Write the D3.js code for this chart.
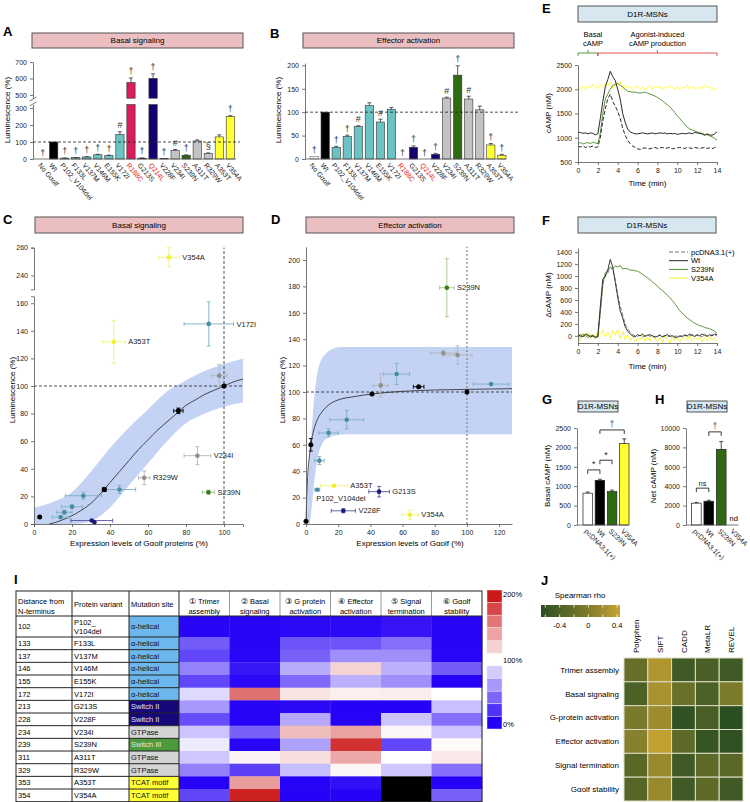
<!DOCTYPE html>
<html>
<head>
<meta charset="utf-8">
<script src="https://cdn.jsdelivr.net/npm/d3@7"></script>
<style>
  body { margin: 0; background: #fff; }
  svg { font-family: "Liberation Sans", Arial, sans-serif; }
</style>
</head>
<body>
<svg width="750" height="802"></svg>
<script>
const variants = ["No Gαolf", "Wt", "P102_V104del", "F133L", "V137M", "V146M", "E155K", "V172I", "R188C",
  "G213S", "Q214L", "V228F", "V234I", "S239N", "A311T", "R329W", "A353T", "V354A"];
const variantGroup = ["none", "wt", "helix", "helix", "helix", "helix", "helix", "helix", "r188",
  "switch", "switch", "switch", "gtp", "sw3", "gtp", "gtp", "tcat", "tcat"];
const redLabels = ["R188C", "Q214L"];

const basalVals = [0, 100, 5, 8, 12, 25, 20, 145, 575, 5, 600, 2, 50, 22, 106, 33, 130, 250];
const basalErr = [0, 0, 1, 1, 2, 3, 3, 15, 28, 1, 28, 0, 6, 2, 6, 3, 12, 5];
const basalMarks = ["†", "", "†", "†", "†", "†", "†", "#", "†", "†", "†", "†", "#", "†", "", "§", "", "†"];

const effectorVals = [5, 100, 25, 48, 69, 114, 79, 106, 0, 25, 0, 10, 130, 179, 128, 105, 30, 8];
const effectorErr = [0, 0, 2, 3, 2, 6, 6, 4, 0, 3, 0, 2, 2, 20, 6, 8, 3, 2];
const effectorMarks = ["†", "", "†", "†", "#", "", "#", "", "†", "†", "†", "†", "#", "†", "#", "", "†", "†"];

// expression vs luminescence: [x, y, xErr, yErr, group, label]
const cPoints = [
  [3, 5, 0, 0, "wt", ""], [37, 25, 1, 1.5, "wt", ""], [76, 82, 2.5, 2, "wt", ""], [100, 100, 0, 0, "wt", ""],
  [26, 20.5, 9.5, 2.5, "helix", ""], [45, 25, 8.5, 3, "helix", ""], [20, 12.5, 5.5, 1.5, "helix", ""],
  [16, 8.5, 4, 1.5, "helix", ""], [14, 5, 4.3, 1, "helix", ""], [92, 145, 13, 16, "helix", "V172I"],
  [30.4, 2.5, 11, 0.5, "switch", ""], [31.8, 1.3, 0, 0, "switch", ""],
  [58, 33.5, 3, 5, "gtp", "R329W"], [86, 49.5, 7, 6.5, "gtp", "V234I"], [97.5, 107.5, 4, 8, "gtp", ""],
  [91.8, 23, 3.2, 1.5, "sw3", "S239N"],
  [42, 132, 6, 15.5, "tcat", "A353T"], [71, 253, 5.5, 7, "tcat", "V354A"]
];
const cFitX = [8, 10, 15, 20, 25, 30, 35, 40, 45, 50, 55, 60, 65, 70, 75, 80, 85, 90, 95, 100, 105, 110];
const cFitY = [0, 0.6, 3, 6, 10, 15, 22, 30, 38, 46, 54, 61, 68, 74, 80, 86, 90, 94, 97, 100, 103, 105];
const cBandX = [0, 10, 20, 30, 40, 50, 60, 70, 80, 90, 100, 110];
const cBandLo = [0, 0, 0, 2, 12, 28, 44, 60, 73, 80, 85, 88];
const cBandHi = [12, 16, 23, 38, 55, 70, 83, 96, 104, 111, 116, 120];

const dPoints = [
  [0, 2, 0, 0, "wt", ""], [3, 60, 0, 4.8, "wt", ""], [41, 98.5, 0, 0, "wt", ""], [70, 104, 3.3, 0, "wt", ""], [100, 100, 0, 0, "wt", ""],
  [8.3, 48, 3, 3, "helix", ""], [14, 69, 6, 3, "helix", ""], [25.3, 79, 10.5, 7, "helix", ""],
  [7, 26, 1.5, 0, "helix", "P102_V104del"], [56.3, 113.6, 8, 8, "helix", ""], [115, 106, 11, 0, "helix", ""],
  [46.4, 105, 4.7, 8.8, "gtp", ""], [85.3, 129.5, 8, 2, "gtp", ""], [94.2, 128, 9, 7, "gtp", ""],
  [87.5, 179, 4.5, 22, "sw3", "S239N"],
  [45.4, 24.5, 6.4, 4, "switch", "G213S"], [23.2, 10, 7.5, 1.5, "switch", "V228F"],
  [17.4, 29, 8.3, 0, "tcat", "A353T"], [64.6, 7, 5.2, 3.5, "tcat", "V354A"]
];
const dFitX = [0, 0.5, 1, 2, 3, 4, 5, 7, 10, 15, 20, 30, 41, 60, 80, 100, 128];
const dFitY = [2, 20, 35, 50, 60, 67, 72, 79, 85, 91, 94, 96.5, 98.5, 100.5, 101.5, 102, 102.5];
const dBandUpX = [0.5, 1, 2, 3.5, 5, 7, 9, 10.8, 13, 17, 22, 27, 128];
const dBandUpY = [0, 20, 45, 71, 94, 114, 123, 127, 130, 133, 134, 134, 134];
const dBandLoX = [2.3, 3.5, 4.6, 6.6, 9.7, 12, 14.9, 20, 25.3, 128];
const dBandLoY = [0, 12, 26, 46, 60, 64, 66, 67.5, 68, 68];

// cAMP traces, one value every 0.25 min (rows = three minutes)
const tMin = d3.range(0, 14.001, 0.25);
const eWt = [
  1100, 1110, 1090, 1100, 1080, 1100, 1090, 1060, 1080, 1400, 1750, 2050,
  2200, 2370, 2260, 2180, 2000, 1800, 1500, 1320, 1180, 1120, 1100, 1080,
  1080, 1090, 1100, 1090, 1080, 1090, 1100, 1080, 1090, 1100, 1090, 1100,
  1080, 1090, 1080, 1090, 1070, 1080, 1090, 1080, 1090, 1100, 1080, 1110,
  1100, 1090, 1080, 1050, 1080, 1060, 1050, 1080, 1120
];
const ePc = [
  820, 810, 830, 800, 820, 810, 830, 800, 810, 1000, 1350, 1600,
  1800, 1900, 1750, 1650, 1550, 1400, 1200, 1050, 950, 880, 830, 800,
  770, 760, 780, 790, 780, 770, 790, 800, 780, 790, 800, 780,
  790, 800, 770, 780, 790, 800, 790, 780, 800, 790, 780, 800,
  790, 780, 790, 800, 780, 790, 770, 800, 820
];
const eS239N = [
  880, 900, 870, 890, 900, 880, 910, 890, 880, 1100, 1500, 1800,
  1900, 2000, 2080, 2100, 2120, 2080, 2050, 2000, 1960, 1950, 1940, 1940,
  1930, 1920, 1930, 1940, 1920, 1900, 1880, 1860, 1830, 1800, 1760, 1720,
  1680, 1640, 1580, 1520, 1450, 1400, 1330, 1280, 1220, 1180, 1160, 1140,
  1120, 1100, 1090, 1070, 1060, 1040, 1020, 990, 950
];
const eV354A = [
  2050, 1980, 2060, 2000, 2080, 2030, 2100, 2040, 2010, 2090, 2040, 2120,
  2060, 2150, 2020, 2100, 2060, 2160, 2000, 2080, 2030, 2060, 1990, 2040,
  2070, 2010, 2050, 1980, 2040, 2080, 2000, 2060, 2020, 2070, 1990, 2050,
  2010, 2080, 2030, 2000, 2060, 1990, 2050, 2020, 2080, 2000, 2060, 2030,
  1990, 2050, 2010, 2090, 2030, 2060, 1990, 2010, 1990
];
const fPc = [
  10, -20, 30, 0, 20, -30, 10, -20, 0, 400, 900, 1000,
  1050, 1150, 1100, 950, 700, 500, 350, 200, 120, 60, 20, 0,
  -10, 10, -20, 0, 20, -10, 10, -30, 0, 20, -10, 10,
  -20, 0, 10, -10, 0, -20, 10, 20, -10, 0, 20, -10,
  10, 0, -20, 30, 0, -10, 20, 10, 0
];
const fWt = [
  20, 0, -10, 30, 10, -20, 0, -30, -10, 500, 950, 1000,
  1100, 1280, 1150, 900, 650, 420, 300, 150, 80, 30, 0, -20,
  20, 0, 30, -10, 10, 20, 0, -20, -10, 10, -20, 0,
  20, -10, 0, -30, -20, 0, -10, 10, 0, 30, 10, -10,
  20, 0, 30, 10, -10, 20, 0, 30, 20
];
const fS239N = [
  0, 20, -20, 10, -30, 10, 0, -10, -20, 400, 850, 1050,
  1100, 1150, 1120, 1170, 1150, 1180, 1120, 1130, 1120, 1100, 1100, 1090,
  1080, 1060, 1030, 1000, 970, 940, 900, 870, 830, 790, 760, 720,
  680, 640, 590, 540, 480, 420, 380, 340, 300, 270, 240, 210,
  190, 170, 160, 140, 130, 120, 100, 80, 40
];
const fV354A = [
  0, -80, 40, -20, 60, -40, 30, -60, 80, 20, 100, -20,
  60, -30, 90, 10, 100, -40, 70, -60, 20, -80, -20, -100,
  -40, -70, 30, -90, -20, -80, 10, -60, -90, -30, -110, 0,
  -60, -120, -20, -80, -30, -100, -50, -10, -70, 10, -90, -40,
  -60, -20, -100, -30, -80, -10, -60, -40, -90
];

const cellLines = ["pcDNA3.1(+)", "Wt", "S239N", "V354A"];
const basalCamp = [820, 1150, 860, 2100];
const basalCampErr = [30, 30, 40, 120];
const netCamp = [2250, 2450, 7800, null];
const netCampErr = [80, 100, 800, 0];
const gBrackets = [[0, 1, 1420, "*"], [1, 2, 1670, "*"], [1, 3, 2450, "†"]];
const hBrackets = [[0, 1, 3800, "ns"], [1, 2, 9600, "†"]];

const iDistance = [102, 133, 137, 146, 155, 172, 213, 228, 234, 239, 311, 329, 353, 354];
const iVariant = ["P102_V104del", "F133L", "V137M", "V146M", "E155K", "V172I", "G213S", "V228F",
  "V234I", "S239N", "A311T", "R329W", "A353T", "V354A"];
const iSite = ["α-helical", "α-helical", "α-helical", "α-helical", "α-helical", "α-helical", "Switch II", "Switch II",
  "GTPase", "Switch III", "GTPase", "GTPase", "TCAT motif", "TCAT motif"];
const iCols = [["① Trimer", "assembly"], ["② Basal", "signaling"], ["③ G protein", "activation"],
  ["④ Effector", "activation"], ["⑤ Signal", "termination"], ["⑥ Gαolf", "stability"]];
const iValues = [
  [2, 2, 3, 3, 8, 2],
  [36, 2, 33, 33, 44, 2],
  [28, 2, 38, 56, 56, 2],
  [51, 9, 67, 119, 69, 36],
  [28, 3, 41, 69, 56, 1],
  [85, 162, 112, 107, 108, 100],
  [60, 2, 4, 1, 1, 75],
  [30, 1, 66, 1, 77, 44],
  [77, 38, 129, 141, 104, 77],
  [92, 2, 63, 190, 28, 102],
  [78, 105, 114, 138, 100, 110],
  [50, 25, 74, 104, 78, 44],
  [1, 143, 1, 6, null, 1],
  [28, 197, 1, 1, null, 38]
];
const iLegendRed = [200, 180, 160, 140, 120];
const iLegendBlue = [80, 60, 40, 20, 0];

const jRows = ["Trimer assembly", "Basal signaling", "G-protein activation", "Effector activation",
  "Signal termination", "Gαolf stability"];
const jCols = ["Polyphen", "SIFT", "CADD", "MetaLR", "REVEL"];
const jRho = [
  [-0.2, 0.30, -0.50, -0.42, -0.50],
  [-0.40, 0.26, -0.17, -0.40, -0.02],
  [-0.03, 0.18, -0.62, -0.42, -0.66],
  [0.05, 0.40, -0.27, -0.57, -0.62],
  [-0.30, 0.15, -0.50, -0.27, -0.30],
  [-0.32, 0.15, -0.50, -0.27, -0.50]
];

const barFill = { none: "#ececec", wt: "#000", helix: "#6cc3c3", r188: "#d81c5c", switch: "#14006e",
  gtp: "#c3c3c3", sw3: "#2d6a12", tcat: "#ffff33" };
const ptFill = { wt: "#000", helix: "#4a8ca3", switch: "#1c1a78", gtp: "#8f8f8f", sw3: "#3b7a1c", tcat: "#f2f22a" };
const ptErr = { wt: "#000", helix: "#7db0c2", switch: "#5552a0", gtp: "#b5b5b5", sw3: "#a3c48e", tcat: "#f0f07a" };
const siteFill = { "α-helical": "#6cb8ee", "Switch II": "#16077a", "GTPase": "#d4d4d4", "Switch III": "#4c9a3c", "TCAT motif": "#ffff33" };
const plain = d3.format("d");

const svg = d3.select("svg");

const letter = (t, x, y) => svg.append("text").attr("x", x).attr("y", y)
  .attr("font-size", 13).attr("font-weight", "bold").text(t);

const banner = (t, x0, x1, y0, y1, fill) => {
  svg.append("rect").attr("x", x0).attr("y", y0).attr("width", x1 - x0).attr("height", y1 - y0)
    .attr("fill", fill).attr("stroke", "#555").attr("stroke-width", 1);
  svg.append("text").attr("x", (x0 + x1) / 2).attr("y", (y0 + y1) / 2).attr("dy", "0.35em")
    .attr("text-anchor", "middle").attr("font-size", 8).text(t);
};

const yLabel = (t, x, y) => svg.append("text").attr("transform", `translate(${x},${y}) rotate(-90)`)
  .attr("text-anchor", "middle").attr("font-size", 8).text(t);

const xLabel = (t, x, y) => svg.append("text").attr("x", x).attr("y", y)
  .attr("text-anchor", "middle").attr("font-size", 8).text(t);

const styleAxis = g => {
  g.attr("font-family", null).attr("font-size", null);
  g.selectAll(".domain").attr("stroke", "#555").attr("stroke-width", 0.8);
  g.selectAll(".tick line").attr("stroke", "#555").attr("stroke-width", 0.8);
  g.selectAll(".tick text").attr("font-size", 7).attr("fill", "#222");
  return g;
};

const hLine = (x0, x1, y, dash, color = "#222", w = 0.8) => svg.append("line")
  .attr("x1", x0).attr("x2", x1).attr("y1", y).attr("y2", y)
  .attr("stroke", color).attr("stroke-width", w).attr("stroke-dasharray", dash);

const vLine = (x, y0, y1, dash, color = "#222", w = 0.8) => svg.append("line")
  .attr("x1", x).attr("x2", x).attr("y1", y0).attr("y2", y1)
  .attr("stroke", color).attr("stroke-width", w).attr("stroke-dasharray", dash);

const rotatedTicks = (scale, y, colorOf) => {
  const g = svg.append("g").attr("transform", `translate(0,${y})`)
    .call(d3.axisBottom(scale).tickSize(0));
  g.select(".domain").remove();
  styleAxis(g);
  g.selectAll(".tick text")
    .attr("x", 0).attr("y", 0).attr("dy", "0.35em")
    .attr("text-anchor", "start")
    .attr("transform", "translate(-3,5) rotate(50)")
    .attr("fill", d => colorOf(d));
};

// ---------- A: basal signaling bars with broken axis ----------
letter("A", 3, 36);
banner("Basal signaling", 32, 243, 33, 48, "#ebbfc2");

const xA = d3.scaleBand().domain(variants).range([38.5, 234.5]).paddingInner(0.25);
const yAlo = d3.scaleLinear().domain([0, 320]).range([159, 104.6]);
const yAhi = d3.scaleLinear().domain([480, 700]).range([98.2, 62]);
const yA = v => (v > 320 ? yAhi(v) : yAlo(v));

const gA = svg.append("g");
variants.forEach((v, i) => {
  const val = basalVals[i];
  const x = xA(v);
  const w = xA.bandwidth();
  const fill = barFill[variantGroup[i]];
  if (val > 320) {
    gA.append("rect").attr("x", x).attr("y", yAlo(320)).attr("width", w).attr("height", yAlo(0) - yAlo(320))
      .attr("fill", fill).attr("stroke", "#333").attr("stroke-width", 0.6);
    gA.append("rect").attr("x", x).attr("y", yAhi(val)).attr("width", w).attr("height", yAhi(480) - yAhi(val))
      .attr("fill", fill).attr("stroke", "#333").attr("stroke-width", 0.6);
  } else {
    gA.append("rect").attr("x", x).attr("y", yAlo(val)).attr("width", w).attr("height", yAlo(0) - yAlo(val))
      .attr("fill", fill).attr("stroke", "#333").attr("stroke-width", 0.6);
  }
  const cx = x + w / 2;
  const top = yA(val + basalErr[i]);
  if (basalErr[i] > 0) {
    gA.append("line").attr("x1", cx).attr("x2", cx).attr("y1", yA(val)).attr("y2", top).attr("stroke", "#333").attr("stroke-width", 0.8);
    gA.append("line").attr("x1", cx - 2).attr("x2", cx + 2).attr("y1", top).attr("y2", top).attr("stroke", "#333").attr("stroke-width", 0.8);
  }
  if (basalMarks[i]) {
    gA.append("text").attr("x", cx).attr("y", top - 3.5).attr("text-anchor", "middle")
      .attr("font-size", 9).attr("fill", "#333").text(basalMarks[i]);
  }
});
styleAxis(svg.append("g").attr("transform", "translate(33,0)")
  .call(d3.axisLeft(yAlo).tickValues([0, 100, 200, 300]).tickSize(3).tickSizeOuter(0)));
styleAxis(svg.append("g").attr("transform", "translate(33,0)")
  .call(d3.axisLeft(yAhi).tickValues([500, 600, 700]).tickSize(3).tickSizeOuter(0)));
svg.append("line").attr("x1", 29.5).attr("x2", 36.5).attr("y1", 106).attr("y2", 102).attr("stroke", "#555").attr("stroke-width", 0.8);
svg.append("line").attr("x1", 29.5).attr("x2", 36.5).attr("y1", 101).attr("y2", 97).attr("stroke", "#555").attr("stroke-width", 0.8);
hLine(33, 236, 159, null, "#555");
hLine(33, 240, yAlo(100), "3,2");
rotatedTicks(xA, 159, d => (redLabels.includes(d) ? "#e0201c" : "#222"));
yLabel("Luminescence (%)", 10, 110);

// ---------- B: effector activation bars ----------
letter("B", 270, 38);
banner("Effector activation", 303, 514, 33, 48, "#ebbfc2");

const xB = d3.scaleBand().domain(variants).range([310, 506]).paddingInner(0.25);
const yB = d3.scaleLinear().domain([0, 205]).range([159, 63]);
const gB = svg.append("g");
variants.forEach((v, i) => {
  const val = effectorVals[i];
  const x = xB(v);
  const w = xB.bandwidth();
  const cx = x + w / 2;
  const grp = variantGroup[i];
  if (val > 0) {
    gB.append("rect").attr("x", x).attr("y", yB(val)).attr("width", w).attr("height", yB(0) - yB(val))
      .attr("fill", barFill[grp]).attr("stroke", grp === "none" ? "#777" : "#333").attr("stroke-width", 0.6);
  }
  const top = yB(val + effectorErr[i]);
  if (effectorErr[i] > 0) {
    gB.append("line").attr("x1", cx).attr("x2", cx).attr("y1", yB(val)).attr("y2", top).attr("stroke", "#333").attr("stroke-width", 0.8);
    gB.append("line").attr("x1", cx - 2).attr("x2", cx + 2).attr("y1", top).attr("y2", top).attr("stroke", "#333").attr("stroke-width", 0.8);
  }
  if (effectorMarks[i]) {
    gB.append("text").attr("x", cx).attr("y", top - 3.5).attr("text-anchor", "middle")
      .attr("font-size", 9).attr("fill", "#333").text(effectorMarks[i]);
  }
});
styleAxis(svg.append("g").attr("transform", "translate(305,0)")
  .call(d3.axisLeft(yB).tickValues([0, 50, 100, 150, 200]).tickSize(3).tickSizeOuter(0)));
hLine(305, 506, 159, null, "#555");
hLine(305, 520, yB(100), "3,2");
rotatedTicks(xB, 159, d => (redLabels.includes(d) ? "#e0201c" : "#222"));
yLabel("Luminescence (%)", 281, 110);

// ---------- scatter helper for C and D ----------
const drawPoints = (pts, xs, ys, labelSpot) => {
  const g = svg.append("g");
  pts.forEach(([x, y, xe, ye, grp, label]) => {
    const col = ptErr[grp];
    const px = xs(x);
    const py = ys(y);
    if (xe > 0) {
      g.append("line").attr("x1", xs(x - xe)).attr("x2", xs(x + xe)).attr("y1", py).attr("y2", py).attr("stroke", col).attr("stroke-width", 0.9);
      [x - xe, x + xe].forEach(e => g.append("line").attr("x1", xs(e)).attr("x2", xs(e)).attr("y1", py - 2).attr("y2", py + 2).attr("stroke", col).attr("stroke-width", 0.9));
    }
    if (ye > 0) {
      g.append("line").attr("x1", px).attr("x2", px).attr("y1", ys(y - ye)).attr("y2", ys(y + ye)).attr("stroke", col).attr("stroke-width", 0.9);
      [y - ye, y + ye].forEach(e => g.append("line").attr("x1", px - 2).attr("x2", px + 2).attr("y1", ys(e)).attr("y2", ys(e)).attr("stroke", col).attr("stroke-width", 0.9));
    }
  });
  pts.forEach(([x, y, xe, ye, grp, label]) => {
    g.append("circle").attr("cx", xs(x)).attr("cy", ys(y)).attr("r", grp === "wt" ? 2.5 : 2.3).attr("fill", ptFill[grp]);
    if (label) {
      const spot = labelSpot(label, x, y, xe);
      g.append("text").attr("x", spot[0]).attr("y", spot[1]).attr("dy", "0.35em")
        .attr("font-size", 7.5).attr("fill", "#222").text(label);
    }
  });
};

// ---------- C: basal signaling vs expression ----------
letter("C", 3, 224);
banner("Basal signaling", 35, 243, 217, 233, "#ebbfc2");

const xC = d3.scaleLinear().domain([0, 110]).range([34, 243]);
const yClo = d3.scaleLinear().domain([0, 165]).range([524, 296.3]);
const yChi = d3.scaleLinear().domain([230, 260]).range([289.3, 247.6]);
const yC = v => (v >= 230 ? yChi(v) : yClo(v));

svg.append("path")
  .attr("d", d3.area().x((d, i) => xC(cBandX[i])).y0((d, i) => yClo(cBandLo[i])).y1((d, i) => yClo(cBandHi[i]))
    .curve(d3.curveMonotoneX)(cBandX))
  .attr("fill", "#c4d3f3");
svg.append("path")
  .attr("d", d3.line().x((d, i) => xC(cFitX[i])).y((d, i) => yClo(cFitY[i])).curve(d3.curveMonotoneX)(cFitX))
  .attr("fill", "none").attr("stroke", "#222").attr("stroke-width", 0.8);
hLine(xC(0), xC(110), yClo(100), "3,2");
vLine(xC(100), yClo(0), yChi(260), "3,2");

styleAxis(svg.append("g").attr("transform", "translate(0,524)")
  .call(d3.axisBottom(xC).tickValues([0, 20, 40, 60, 80, 100]).tickSize(3)));
styleAxis(svg.append("g").attr("transform", "translate(34,0)")
  .call(d3.axisLeft(yClo).tickValues([0, 20, 40, 60, 80, 100, 120, 140, 160]).tickSize(3).tickSizeOuter(3)));
styleAxis(svg.append("g").attr("transform", "translate(34,0)")
  .call(d3.axisLeft(yChi).tickValues([240, 260]).tickSize(3).tickSizeOuter(3)));

drawPoints(cPoints, xC, yC, (label, x, y, xe) => [xC(x + xe) + 3, yC(y)]);
yLabel("Luminescence (%)", 15, 390);
xLabel("Expression levels of Gαolf proteins (%)", 139, 546);

// ---------- D: effector activation vs expression ----------
letter("D", 271, 224);
banner("Effector activation", 306, 514, 217, 233, "#ebbfc2");

const xD = d3.scaleLinear().domain([0, 128]).range([306, 512]);
const yD = d3.scaleLinear().domain([0, 210]).range([524, 246.8]);

const bandUp = dBandUpX.map((x, i) => [x, dBandUpY[i]]);
const bandLo = dBandLoX.map((x, i) => [x, dBandLoY[i]]).reverse();
const bandLine = d3.line().x(d => xD(d[0])).y(d => yD(d[1])).curve(d3.curveMonotoneX);
svg.append("path")
  .attr("d", bandLine(bandUp) + "L" + bandLine(bandLo).slice(1) + "Z")
  .attr("fill", "#c4d3f3");
svg.append("path")
  .attr("d", d3.line().x((d, i) => xD(dFitX[i])).y((d, i) => yD(dFitY[i])).curve(d3.curveMonotoneX)(dFitX))
  .attr("fill", "none").attr("stroke", "#222").attr("stroke-width", 0.8);
hLine(xD(0), xD(128), yD(100), "3,2");
vLine(xD(100), yD(0), yD(210), "2,2", "#888", 1.3);

styleAxis(svg.append("g").attr("transform", "translate(0,524)")
  .call(d3.axisBottom(xD).tickValues([0, 20, 40, 60, 80, 100, 120]).tickSize(3).tickSizeOuter(0)));
styleAxis(svg.append("g").attr("transform", "translate(306,0)")
  .call(d3.axisLeft(yD).tickValues(d3.range(0, 201, 20)).tickSize(3).tickSizeOuter(0)));

drawPoints(dPoints, xD, yD, (label, x, y, xe) =>
  label === "P102_V104del" ? [xD(x) - 1, yD(y) + 9] : [xD(x + xe) + 3, yD(y)]);
yLabel("Luminescence (%)", 285, 390);
xLabel("Expression levels of Gαolf (%)", 410, 546);

// ---------- E: cAMP traces ----------
letter("E", 542, 13);
banner("D1R-MSNs", 578, 717, 6, 22, "#d6e7ef");

const xE = d3.scaleLinear().domain([0, 14]).range([578, 717]);
const yE = d3.scaleLinear().domain([500, 2500]).range([162, 65]);

svg.append("text").attr("x", xE(1.5)).attr("y", 37).attr("text-anchor", "middle").attr("font-size", 7.5).text("Basal");
svg.append("text").attr("x", xE(1.5)).attr("y", 46).attr("text-anchor", "middle").attr("font-size", 7.5).text("cAMP");
svg.append("text").attr("x", xE(8)).attr("y", 37).attr("text-anchor", "middle").attr("font-size", 7.5).text("Agonist-induced");
svg.append("text").attr("x", xE(8)).attr("y", 46).attr("text-anchor", "middle").attr("font-size", 7.5).text("cAMP production");
const brace = (t0, t1, color) => {
  svg.append("path")
    .attr("d", `M${xE(t0)},56V53H${xE(t1)}V56M${(xE(t0) + xE(t1)) / 2},53V50`)
    .attr("fill", "none").attr("stroke", color).attr("stroke-width", 0.9);
};
brace(0, 2, "#4d8a2a");
brace(2, 14, "#e04040");

const traceE = d3.line().x((d, i) => xE(tMin[i])).y(d => yE(d));
[[eV354A, "#ffff22", null], [eS239N, "#4d8a2a", null], [ePc, "#111", "4,2"], [eWt, "#111", null]]
  .forEach(([vals, color, dash]) => {
    svg.append("path").attr("d", traceE(vals)).attr("fill", "none")
      .attr("stroke", color).attr("stroke-width", 0.9).attr("stroke-dasharray", dash);
  });
styleAxis(svg.append("g").attr("transform", "translate(0,162)")
  .call(d3.axisBottom(xE).tickValues(d3.range(0, 15, 2)).tickSize(3).tickSizeOuter(0)));
styleAxis(svg.append("g").attr("transform", "translate(578,0)")
  .call(d3.axisLeft(yE).tickValues([500, 1000, 1500, 2000, 2500]).tickFormat(plain).tickSize(3).tickSizeOuter(0)));
yLabel("cAMP (nM)", 551, 113);
xLabel("Time (min)", xE(7), 186);

// ---------- F: delta cAMP traces ----------
letter("F", 542, 225);
banner("D1R-MSNs", 578, 716, 217, 233, "#d6e7ef");

const yF = d3.scaleLinear().domain([-120, 1470]).range([343, 248]);
const traceF = d3.line().x((d, i) => xE(tMin[i])).y(d => yF(d));
const fSeries = [["pcDNA3.1(+)", fPc, "#777", "4,2"], ["Wt", fWt, "#222", null],
  ["S239N", fS239N, "#4d8a2a", null], ["V354A", fV354A, "#f2f222", null]];
[fSeries[3], fSeries[2], fSeries[0], fSeries[1]].forEach(([name, vals, color, dash]) => {
  svg.append("path").attr("d", traceF(vals)).attr("fill", "none")
    .attr("stroke", color).attr("stroke-width", 0.9).attr("stroke-dasharray", dash);
});
fSeries.forEach(([name, vals, color, dash], i) => {
  const ly = 252 + i * 8.7;
  svg.append("line").attr("x1", 669).attr("x2", 688).attr("y1", ly).attr("y2", ly)
    .attr("stroke", color).attr("stroke-width", 1).attr("stroke-dasharray", dash);
  svg.append("text").attr("x", 691).attr("y", ly).attr("dy", "0.35em").attr("font-size", 7.5).text(name);
});
styleAxis(svg.append("g").attr("transform", "translate(0,343)")
  .call(d3.axisBottom(xE).tickValues(d3.range(0, 15, 2)).tickSize(3).tickSizeOuter(0)));
styleAxis(svg.append("g").attr("transform", "translate(578,0)")
  .call(d3.axisLeft(yF).tickValues(d3.range(0, 1401, 200)).tickFormat(plain).tickSize(3).tickSizeOuter(0)));
yLabel("ΔcAMP (nM)", 551, 295);
xLabel("Time (min)", xE(7), 369);

// ---------- G / H: cAMP bars ----------
const cellFill = ["#fff", "#000", "#2d6a12", "#ffff33"];
const smallBars = (xs, ys, axisX, vals, errs, brackets, ticks) => {
  const g = svg.append("g");
  cellLines.forEach((c, i) => {
    const x = xs(c);
    const w = xs.bandwidth();
    const cx = x + w / 2;
    if (vals[i] === null) {
      g.append("text").attr("x", cx).attr("y", ys(0) - 4).attr("text-anchor", "middle").attr("font-size", 7.5).text("nd");
      return;
    }
    g.append("rect").attr("x", x).attr("y", ys(vals[i])).attr("width", w).attr("height", ys(0) - ys(vals[i]))
      .attr("fill", cellFill[i]).attr("stroke", "#222").attr("stroke-width", 0.7);
    const top = ys(vals[i] + errs[i]);
    g.append("line").attr("x1", cx).attr("x2", cx).attr("y1", ys(vals[i])).attr("y2", top).attr("stroke", "#222").attr("stroke-width", 0.8);
    g.append("line").attr("x1", cx - 2).attr("x2", cx + 2).attr("y1", top).attr("y2", top).attr("stroke", "#222").attr("stroke-width", 0.8);
  });
  brackets.forEach(([a, b, v, t]) => {
    const x0 = xs(cellLines[a]) + xs.bandwidth() / 2;
    const x1 = xs(cellLines[b]) + xs.bandwidth() / 2;
    const y = ys(v);
    g.append("path").attr("d", `M${x0},${y + 4}V${y}H${x1}V${y + 4}`)
      .attr("fill", "none").attr("stroke", "#222").attr("stroke-width", 0.9);
    g.append("text").attr("x", (x0 + x1) / 2).attr("y", y - 2.5).attr("text-anchor", "middle")
      .attr("font-size", t === "ns" ? 7.5 : 9).attr("fill", t === "†" ? "#555" : "#222").text(t);
  });
  styleAxis(svg.append("g").attr("transform", `translate(${axisX},0)`)
    .call(d3.axisLeft(ys).tickValues(ticks).tickFormat(plain).tickSize(3).tickSizeOuter(0)));
  hLine(axisX, xs.range()[1], ys(0), null, "#555");
  const gt = svg.append("g").attr("transform", `translate(0,${ys(0)})`).call(d3.axisBottom(xs).tickSize(0));
  gt.select(".domain").remove();
  styleAxis(gt);
  gt.selectAll(".tick text").attr("x", 0).attr("y", 0).attr("dy", "0.35em")
    .attr("text-anchor", "start").attr("transform", "translate(-2,5) rotate(45)");
};

letter("G", 542, 404);
banner("D1R-MSNs", 578, 618, 401, 412, "#d6e7ef");
const xG = d3.scaleBand().domain(cellLines).range([583, 629]).paddingInner(0.22);
const yG = d3.scaleLinear().domain([0, 2500]).range([525, 428]);
smallBars(xG, yG, 577, basalCamp, basalCampErr, gBrackets, [0, 500, 1000, 1500, 2000, 2500]);
yLabel("Basal cAMP (nM)", 550, 476);

letter("H", 655, 404);
banner("D1R-MSNs", 687, 727, 401, 412, "#d6e7ef");
const xH = d3.scaleBand().domain(cellLines).range([691.5, 738.5]).paddingInner(0.22);
const yH = d3.scaleLinear().domain([0, 10000]).range([525, 428]);
smallBars(xH, yH, 686, netCamp, netCampErr, hBrackets, [0, 2000, 4000, 6000, 8000, 10000]);
yLabel("Net cAMP (nM)", 656, 476);

// ---------- I: heat table ----------
letter("I", 14, 584);
const heatColor = d3.scaleLinear().domain([0, 100, 200]).range(["#2400f6", "#ffffff", "#cc1a1a"]);
const xI = d3.scaleBand().domain(d3.range(iCols.length)).range([179, 482]);
const rowY = d3.scaleLinear().domain([1, 14]).range([637, 801.7]);
const rowTop = i => (i === 0 ? 616 : rowY(i));
const rowBot = i => (i === 0 ? 637 : rowY(i + 1));
const gI = svg.append("g");

iValues.forEach((row, r) => {
  row.forEach((v, c) => {
    gI.append("rect").attr("x", xI(c)).attr("y", rowTop(r)).attr("width", xI.bandwidth() + 0.3)
      .attr("height", rowBot(r) - rowTop(r) + 0.3).attr("fill", v === null ? "#000" : heatColor(v));
  });
  const site = iSite[r];
  gI.append("rect").attr("x", 129).attr("y", rowTop(r)).attr("width", 50).attr("height", rowBot(r) - rowTop(r))
    .attr("fill", siteFill[site]);
  const mid = (rowTop(r) + rowBot(r)) / 2;
  const dark = site === "Switch II" || site === "Switch III";
  gI.append("text").attr("x", 18).attr("y", mid).attr("dy", "0.35em").attr("font-size", 7.5).text(iDistance[r]);
  if (r === 0) {
    gI.append("text").attr("x", 74).attr("y", mid - 4).attr("dy", "0.35em").attr("font-size", 7.5).text("P102_");
    gI.append("text").attr("x", 74).attr("y", mid + 5).attr("dy", "0.35em").attr("font-size", 7.5).text("V104del");
  } else {
    gI.append("text").attr("x", 74).attr("y", mid).attr("dy", "0.35em").attr("font-size", 7.5).text(iVariant[r]);
  }
  gI.append("text").attr("x", 131).attr("y", mid).attr("dy", "0.35em").attr("font-size", 7.5)
    .attr("fill", dark ? "#e6e6e6" : "#111").text(site);
  if (r > 0) {
    gI.append("line").attr("x1", 16).attr("x2", 179).attr("y1", rowTop(r)).attr("y2", rowTop(r))
      .attr("stroke", "#222").attr("stroke-width", 1);
  }
});

[["Distance from", "N-terminus", 18], ["Protein variant", null, 74], ["Mutation site", null, 131]].forEach(([a, b, x]) => {
  if (b) {
    gI.append("text").attr("x", x).attr("y", 601).attr("dy", "0.35em").attr("font-size", 7.5).text(a);
    gI.append("text").attr("x", x).attr("y", 611).attr("dy", "0.35em").attr("font-size", 7.5).text(b);
  } else {
    gI.append("text").attr("x", x).attr("y", 604).attr("dy", "0.35em").attr("font-size", 7.5).text(a);
  }
});
iCols.forEach(([a, b], c) => {
  const cx = xI(c) + xI.bandwidth() / 2;
  gI.append("text").attr("x", cx).attr("y", 601).attr("dy", "0.35em").attr("text-anchor", "middle").attr("font-size", 7.5).text(a);
  gI.append("text").attr("x", cx).attr("y", 611).attr("dy", "0.35em").attr("text-anchor", "middle").attr("font-size", 7.5).text(b);
  if (c > 0) {
    gI.append("line").attr("x1", xI(c)).attr("x2", xI(c)).attr("y1", 591).attr("y2", 616).attr("stroke", "#999").attr("stroke-width", 1);
  }
});
[72, 129, 179].forEach(x => gI.append("line").attr("x1", x).attr("x2", x).attr("y1", 591).attr("y2", 801.7)
  .attr("stroke", "#222").attr("stroke-width", 1));
gI.append("line").attr("x1", 16).attr("x2", 482).attr("y1", 616).attr("y2", 616).attr("stroke", "#222").attr("stroke-width", 1);
gI.append("rect").attr("x", 16).attr("y", 591).attr("width", 466).attr("height", 210.7)
  .attr("fill", "none").attr("stroke", "#222").attr("stroke-width", 1);

const legY = d3.scaleBand().domain(d3.range(5)).range([590, 653]);
iLegendRed.forEach((v, k) => gI.append("rect").attr("x", 487).attr("y", legY(k)).attr("width", 15).attr("height", legY.bandwidth())
  .attr("fill", heatColor(v)).attr("stroke", "#f3dcdc").attr("stroke-width", 0.5));
const legY2 = d3.scaleBand().domain(d3.range(5)).range([666, 729]);
iLegendBlue.forEach((v, k) => gI.append("rect").attr("x", 487).attr("y", legY2(k)).attr("width", 15).attr("height", legY2.bandwidth())
  .attr("fill", heatColor(v)).attr("stroke", "#e2e0fb").attr("stroke-width", 0.5));
[["200%", 594], ["100%", 660], ["0%", 724]].forEach(([t, y]) =>
  gI.append("text").attr("x", 503).attr("y", y).attr("dy", "0.35em").attr("font-size", 7.5).text(t));

// ---------- J: Spearman heatmap ----------
letter("J", 541, 585);
const jColor = d3.scaleLinear().domain([-0.66, 0, 0.44]).range(["#2b4f22", "#7f7c2c", "#c9a232"]);
const jBar = d3.scaleLinear().domain([-0.66, 0.44]).range([541, 620]);
const grad = svg.append("defs").append("linearGradient").attr("id", "rhoGrad");
d3.range(0, 1.001, 0.1).forEach(o => grad.append("stop").attr("offset", o)
  .attr("stop-color", jColor(jBar.domain()[0] + o * (jBar.domain()[1] - jBar.domain()[0]))));
svg.append("text").attr("x", 580).attr("y", 598).attr("text-anchor", "middle").attr("font-size", 8).text("Spearman rho");
svg.append("rect").attr("x", 541).attr("y", 605).attr("width", 79).attr("height", 12).attr("fill", "url(#rhoGrad)");
[-0.6, -0.4, -0.2, 0, 0.2, 0.4].forEach(v => {
  svg.append("line").attr("x1", jBar(v)).attr("x2", jBar(v)).attr("y1", 605).attr("y2", 607.5).attr("stroke", "#fff").attr("stroke-width", 0.8);
  svg.append("line").attr("x1", jBar(v)).attr("x2", jBar(v)).attr("y1", 614.5).attr("y2", 617).attr("stroke", "#fff").attr("stroke-width", 0.8);
});
[-0.4, 0, 0.4].forEach(v => svg.append("text").attr("x", jBar(v)).attr("y", 628).attr("text-anchor", "middle")
  .attr("font-size", 7.5).text(v));

const jx = d3.scaleBand().domain(jCols).range([624, 743]);
const jy = d3.scaleBand().domain(jRows).range([658, 801]);
jRho.forEach((row, r) => row.forEach((v, c) => {
  svg.append("rect").attr("x", jx(jCols[c])).attr("y", jy(jRows[r])).attr("width", jx.bandwidth()).attr("height", jy.bandwidth())
    .attr("fill", jColor(v)).attr("stroke", "#dcdcc4").attr("stroke-width", 1);
}));
jCols.forEach(c => svg.append("text")
  .attr("transform", `translate(${jx(c) + jx.bandwidth() / 2 + 3},653) rotate(-90)`)
  .attr("font-size", 8).text(c));
jRows.forEach(r => svg.append("text").attr("x", 619).attr("y", jy(r) + jy.bandwidth() / 2).attr("dy", "0.35em")
  .attr("text-anchor", "end").attr("font-size", 8).text(r));
</script>
</body>
</html>
